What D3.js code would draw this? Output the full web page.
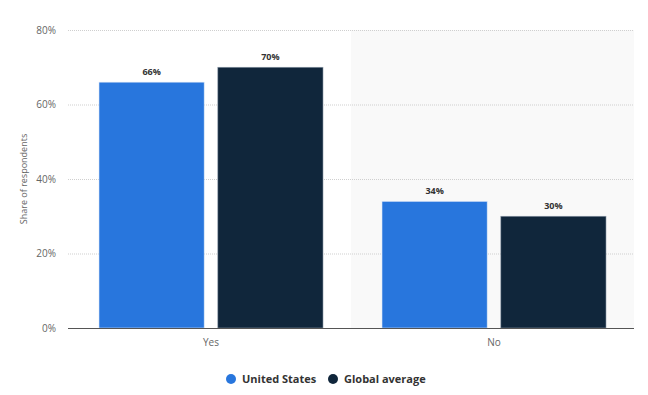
<!DOCTYPE html>
<html>
<head>
<meta charset="utf-8">
<script src="https://cdn.jsdelivr.net/npm/d3@7/dist/d3.min.js"></script>
<style>
  body { margin: 0; background: #fff; }
  text { font-family: "Open Sans", "Liberation Sans", sans-serif; }
</style>
</head>
<body>
<script>
// chart data
const categories = ["Yes", "No"];
const seriesNames = ["United States", "Global average"];
const usValues = [66, 34];
const globalValues = [70, 30];
const yTicks = [0, 20, 40, 60, 80];
const colors = ["#2876dd", "#10263b"];

const width = 648, height = 395;
const margin = { left: 68, right: 14, top: 30, bottom: 67 };

const svg = d3.select("body").append("svg")
  .attr("width", width)
  .attr("height", height);

// scales
const x = d3.scaleBand()
  .domain(categories)
  .range([margin.left, width - margin.right]);

const x1 = d3.scaleBand()
  .domain(seriesNames)
  .range([31, 255])
  .paddingInner(0.115);

const y = d3.scaleLinear()
  .domain([0, 80])
  .range([height - margin.bottom, margin.top]);

// shaded band behind second category
svg.append("rect")
  .attr("x", x("No"))
  .attr("y", y(80))
  .attr("width", x.bandwidth())
  .attr("height", y(0) - y(80))
  .attr("fill", "#f9f9f9");

// gridlines
svg.append("g")
  .selectAll("line")
  .data(yTicks.filter(d => d > 0))
  .enter()
  .append("line")
    .attr("x1", margin.left)
    .attr("x2", width - margin.right)
    .attr("y1", d => y(d) + 0.5)
    .attr("y2", d => y(d) + 0.5)
    .attr("stroke", "#cfcfcf")
    .attr("stroke-dasharray", "1,1");

// y axis labels
const yAxis = d3.axisLeft(y)
  .tickValues(yTicks)
  .tickFormat(d => d + "%")
  .tickSize(0)
  .tickPadding(12);
const gy = svg.append("g")
  .attr("transform", `translate(${margin.left}, 0)`)
  .call(yAxis);
gy.select(".domain").remove();
gy.selectAll("text")
  .attr("fill", "#666")
  .style("font-size", "10px");

// axis title
svg.append("text")
  .attr("transform", `translate(27, ${y(40)}) rotate(-90)`)
  .attr("text-anchor", "middle")
  .attr("fill", "#666")
  .style("font-size", "9px")
  .text("Share of respondents");

// bars
const rows = categories.map((c, i) => ({ cat: c, vals: [usValues[i], globalValues[i]] }));

const groups = svg.selectAll(".grp")
  .data(rows)
  .enter()
  .append("g")
    .attr("transform", d => `translate(${x(d.cat)}, 0)`);

groups.selectAll("rect")
  .data(d => d.vals.map((v, j) => ({ name: seriesNames[j], v: v, j: j })))
  .enter()
  .append("rect")
    .attr("x", d => x1(d.name))
    .attr("y", d => y(d.v))
    .attr("width", x1.bandwidth())
    .attr("height", d => y(0) - y(d.v))
    .attr("fill", d => colors[d.j])
    .attr("stroke", d => d.j === 0 ? "#dbe7f7" : "#8a98a6")
    .attr("stroke-width", 0.6);

groups.selectAll(".lbl")
  .data(d => d.vals.map((v, j) => ({ name: seriesNames[j], v: v, j: j })))
  .enter()
  .append("text")
    .attr("x", d => x1(d.name) + x1.bandwidth() / 2)
    .attr("y", d => y(d.v) - 7)
    .attr("text-anchor", "middle")
    .attr("fill", "#333")
    .style("font-size", "9px")
    .style("font-weight", "bold")
    .text(d => d.v + "%");

// baseline
svg.append("line")
  .attr("x1", margin.left)
  .attr("x2", width - margin.right)
  .attr("y1", y(0) + 0.5)
  .attr("y2", y(0) + 0.5)
  .attr("stroke", "#555")
  .attr("stroke-width", 1);

// x axis labels
svg.selectAll(".xl")
  .data(categories)
  .enter()
  .append("text")
    .attr("x", d => x(d) + x1.range()[0] + (x1.range()[1] - x1.range()[0]) / 2)
    .attr("y", y(0) + 18)
    .attr("text-anchor", "middle")
    .attr("fill", "#666")
    .style("font-size", "10px")
    .text(d => d);

// legend
const legendX = [231, 333];
seriesNames.forEach(function(name, i) {
  svg.append("circle")
    .attr("cx", legendX[i])
    .attr("cy", 379)
    .attr("r", 5)
    .attr("fill", colors[i]);
  svg.append("text")
    .attr("x", legendX[i] + 11)
    .attr("y", 383)
    .attr("fill", "#333")
    .style("font-size", "11px")
    .style("font-weight", "bold")
    .text(name);
});
</script>
</body>
</html>
